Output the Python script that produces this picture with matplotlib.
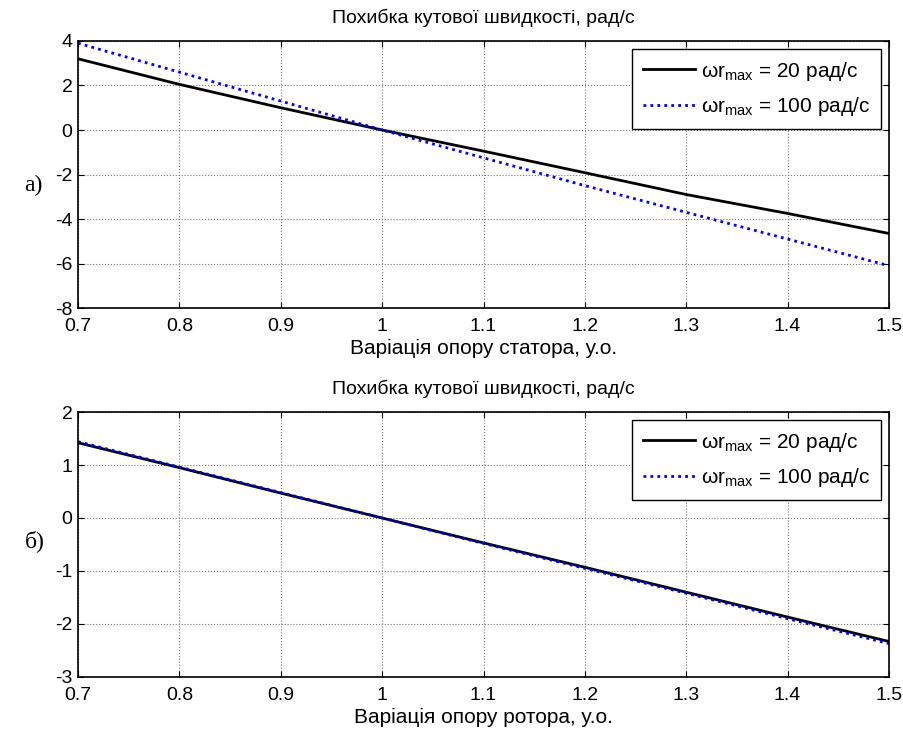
import matplotlib
matplotlib.use("Agg")
import matplotlib.pyplot as plt
import numpy as np

plt.rcParams['font.family'] = ['Liberation Sans', 'DejaVu Sans']
plt.rcParams['mathtext.default'] = 'regular'
plt.rcParams['axes.unicode_minus'] = False

x = [0.7, 0.8, 0.9, 1.0, 1.1, 1.2, 1.3, 1.4, 1.5]
stator_20 = [3.2, 2.05, 1.0, 0.0, -0.95, -1.92, -2.9, -3.75, -4.65]
stator_100 = [3.9, 2.6, 1.3, 0.0, -1.25, -2.5, -3.7, -4.9, -6.1]
rotor_20 = [1.42, 0.95, 0.47, 0.0, -0.47, -0.93, -1.4, -1.87, -2.33]
rotor_100 = [1.44, 0.96, 0.48, 0.0, -0.48, -0.95, -1.42, -1.9, -2.37]

title = "Похибка кутової швидкості, рад/с"
xlabels = ["Варіація опору статора, у.о.", "Варіація опору ротора, у.о."]
panel_labels = ["а)", "б)"]
legend_labels = [r"ωr$_{max}$ = 20 рад/с", r"ωr$_{max}$ = 100 рад/с"]
xticks = [0.7, 0.8, 0.9, 1.0, 1.1, 1.2, 1.3, 1.4, 1.5]
xticklabels = ["0.7", "0.8", "0.9", "1", "1.1", "1.2", "1.3", "1.4", "1.5"]
yticks_top = [-8, -6, -4, -2, 0, 2, 4]
yticks_bot = [-3, -2, -1, 0, 1, 2]

fig = plt.figure(figsize=(9.04, 7.36), dpi=100)
ax1 = fig.add_axes([0.0863, 0.5815, 0.8971, 0.3628])
ax2 = fig.add_axes([0.0863, 0.0802, 0.8971, 0.3600])

data = [(ax1, stator_20, stator_100, yticks_top), (ax2, rotor_20, rotor_100, yticks_bot)]
for i, (ax, s20, s100, yt) in enumerate(data):
    ax.plot(x, s20, color='black', lw=2.0, label=legend_labels[0])
    ax.plot(x, s100, color='blue', lw=2.0, linestyle=(0, (1, 1.5)), label=legend_labels[1])
    ax.set_xlim(0.7, 1.5)
    ax.set_ylim(yt[0], yt[-1])
    ax.set_xticks(xticks)
    ax.set_xticklabels(xticklabels)
    ax.set_yticks(yt)
    ax.grid(True, color='#777777', linestyle=':', linewidth=0.8)
    ax.tick_params(axis='both', direction='in', top=True, right=True, labelsize=14, length=4)
    ax.tick_params(axis='x', pad=7)
    ax.tick_params(axis='y', pad=4)
    for sp in ax.spines.values():
        sp.set_linewidth(1.2)
    ax.set_title(title, fontsize=14, pad=13)
    ax.set_xlabel(xlabels[i], fontsize=15, labelpad=3)
    leg = ax.legend(loc='upper right', fontsize=15, fancybox=False, edgecolor='black',
                    framealpha=1, handlelength=2.5, handletextpad=0.3,
                    borderaxespad=0.4, labelspacing=0.6, borderpad=0.5)
    leg.get_frame().set_linewidth(1.0)

fig.text(0.027, 0.748, panel_labels[0], fontsize=17, family='Liberation Serif', va='center')
fig.text(0.027, 0.265, panel_labels[1], fontsize=17, family='Liberation Serif', va='center')

fig.savefig("out.png", dpi=100)
